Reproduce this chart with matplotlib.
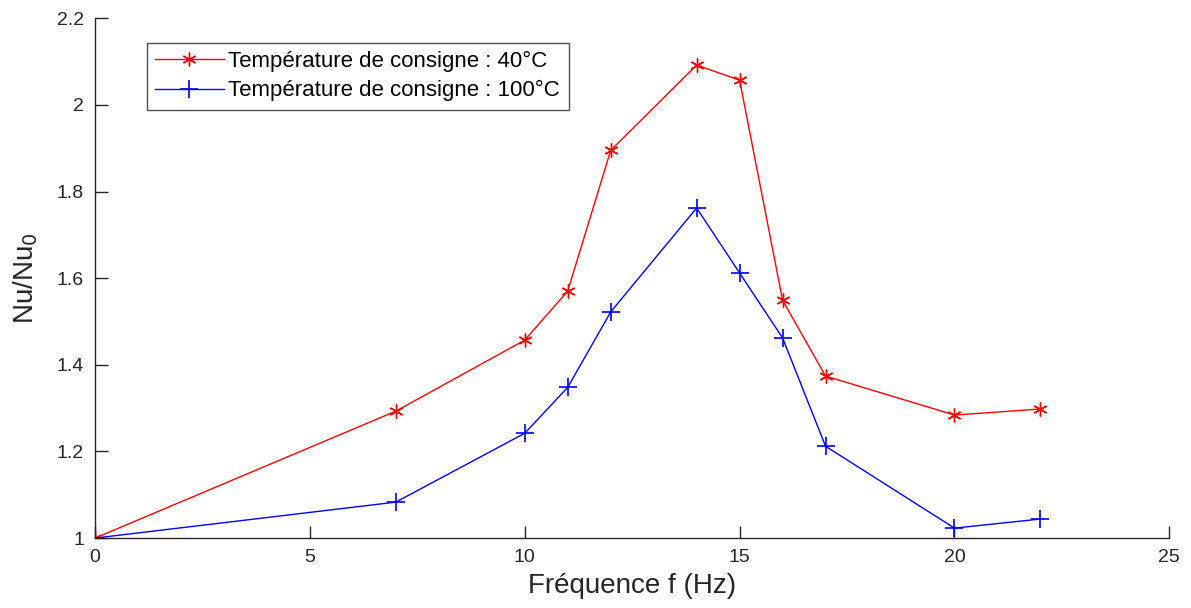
import matplotlib
matplotlib.use("Agg")
import matplotlib.pyplot as plt

plt.rcParams['font.family'] = ['Liberation Sans', 'DejaVu Sans']

freq = [0, 7, 10, 11, 12, 14, 15, 16, 17, 20, 22]
nu_40 = [1.0, 1.293, 1.457, 1.570, 1.895, 2.092, 2.057, 1.549, 1.374, 1.284, 1.298]
nu_100 = [1.0, 1.083, 1.242, 1.348, 1.522, 1.762, 1.612, 1.462, 1.212, 1.023, 1.044]

xticks = [0, 5, 10, 15, 20, 25]
yticks = [1, 1.2, 1.4, 1.6, 1.8, 2, 2.2]
ytick_labels = ['1', '1.2', '1.4', '1.6', '1.8', '2', '2.2']

fig = plt.figure(figsize=(11.91, 6.08), dpi=100)
ax = fig.add_axes([0.0798, 0.115, 0.902, 0.855])

ax.plot(freq, nu_40, color='#ff0000', marker=(6, 2, 0), markersize=10, linewidth=1,
        label='Température de consigne : 40°C')
ax.plot(freq, nu_100, color='#0000ff', marker='+', markersize=13, linewidth=1,
        markeredgewidth=1.2, label='Température de consigne : 100°C')

ax.set_xlim(0, 25)
ax.set_ylim(1, 2.2)
ax.set_xticks(xticks)
ax.set_yticks(yticks)
ax.set_yticklabels(ytick_labels)

for side in ['top', 'right']:
    ax.spines[side].set_visible(False)
for side in ['left', 'bottom']:
    ax.spines[side].set_color('#262626')
    ax.spines[side].set_linewidth(1)
ax.tick_params(direction='in', length=9, width=1, colors='#262626',
               labelsize=14, pad=8)

ax.set_xlabel('Fréquence f (Hz)', fontsize=20, color='#262626', labelpad=5)
ax.set_ylabel('Nu/Nu$_0$', fontsize=20, color='#262626', labelpad=12)

leg = ax.legend(loc='upper left', bbox_to_anchor=(0.048, 0.953), fontsize=16,
                frameon=True, fancybox=False, edgecolor='#262626',
                handlelength=3.1, borderpad=0.38, labelspacing=0.36,
                handletextpad=0.2, borderaxespad=0)
leg.get_frame().set_linewidth(1)

fig.savefig('out.png', dpi=100)
